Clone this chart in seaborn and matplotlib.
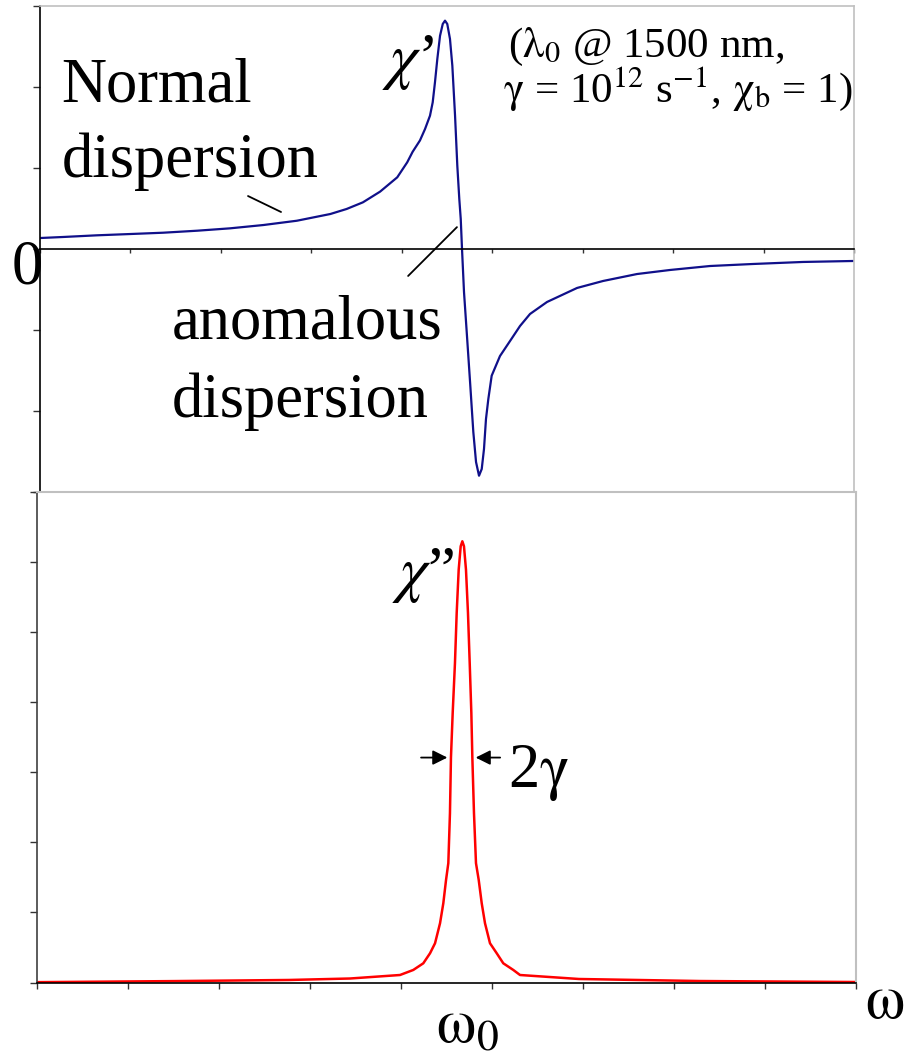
"""Dispersion (chi') and absorption (chi'') near a resonance, two stacked panels."""
import matplotlib
matplotlib.use("Agg")
import matplotlib.pyplot as plt
import pandas as pd
import seaborn as sns

# chi' (top panel); x and y in tick units
CHI1_X = [0.01, 0.25, 0.63, 1.0, 1.36, 1.74, 2.10, 2.47, 2.84, 3.21, 3.39, 3.57,
          3.76, 3.95, 4.06, 4.12, 4.201, 4.257, 4.312, 4.342, 4.367, 4.393, 4.423,
          4.453, 4.478, 4.503, 4.533, 4.559, 4.589, 4.614, 4.636, 4.652, 4.666,
          4.688, 4.718, 4.755, 4.791, 4.821, 4.854, 4.884, 4.909, 4.931, 4.957,
          4.994, 5.086, 5.219, 5.307, 5.418, 5.606, 5.938, 6.225, 6.601, 6.966,
          7.408, 7.884, 8.437, 8.99]
CHI1_Y = [0.136, 0.148, 0.169, 0.185, 0.201, 0.226, 0.255, 0.296, 0.349, 0.432,
          0.494, 0.576, 0.708, 0.885, 1.07, 1.20, 1.34, 1.481, 1.646, 1.811, 2.058,
          2.346, 2.633, 2.778, 2.819, 2.778, 2.593, 2.263, 1.646, 1.028, 0.617, 0.370,
          0.0, -0.531, -1.025, -1.642, -2.259, -2.630, -2.799, -2.716, -2.469, -2.099,
          -1.852, -1.564, -1.321, -1.099, -0.951, -0.802, -0.654, -0.481, -0.395,
          -0.309, -0.259, -0.210, -0.185, -0.160, -0.148]

# chi'' (bottom panel)
CHI2_X = [0.0, 1.505, 2.769, 3.44, 3.989, 4.135, 4.245, 4.319, 4.374, 4.429, 4.465,
          4.495, 4.520, 4.538, 4.549, 4.568, 4.593, 4.612, 4.634, 4.656, 4.674, 4.692,
          4.714, 4.736, 4.755, 4.773, 4.784, 4.802, 4.824, 4.854, 4.887, 4.923, 4.978,
          5.052, 5.124, 5.234, 5.308, 5.956, 7.286, 9.0]
CHI2_Y = [0.005, 0.02, 0.036, 0.057, 0.107, 0.179, 0.274, 0.417, 0.560, 0.846, 1.131,
          1.464, 1.703, 2.417, 3.211, 3.846, 4.560, 5.274, 5.893, 6.226, 6.297, 6.226,
          5.893, 5.274, 4.560, 3.846, 3.211, 2.417, 1.703, 1.464, 1.131, 0.846, 0.560,
          0.417, 0.274, 0.179, 0.107, 0.05, 0.021, 0.007]

X_TICKS = list(range(0, 10))
TOP_Y_TICKS = [-3, -2, -1, 0, 1, 2, 3]
BOT_Y_TICKS = list(range(0, 8))

NAVY = "#10108a"
RED = "#ff0000"
LIGHT = "#c0c0c0"

SERIF = ["Liberation Serif", "STIXGeneral", "DejaVu Serif"]

sns.set_theme(style="white")
plt.rcParams["font.family"] = SERIF
plt.rcParams["text.color"] = "black"
# greek letters go through mathtext so they come out Times-like (STIX)
plt.rcParams["mathtext.fontset"] = "stix"

FONT = dict(family=SERIF, color="black")

fig = plt.figure(figsize=(9.08, 10.56), dpi=100)
ax1 = fig.add_axes([40 / 908, 1 - 492 / 1056, 814 / 908, 486 / 1056])
ax2 = fig.add_axes([37 / 908, 1 - 982.5 / 1056, 819 / 908, 490.5 / 1056])

top_df = pd.DataFrame({"w": CHI1_X, "chi": CHI1_Y})
bot_df = pd.DataFrame({"w": CHI2_X, "chi": CHI2_Y})

sns.lineplot(data=top_df, x="w", y="chi", ax=ax1, color=NAVY, lw=1.6, estimator=None)
sns.lineplot(data=bot_df, x="w", y="chi", ax=ax2, color=RED, lw=1.8, estimator=None)

# --- top panel: zero line acts as x axis
ax1.set_xlim(0, 9)
ax1.set_ylim(-3, 3)
ax1.set_xticks(X_TICKS)
ax1.set_yticks(TOP_Y_TICKS)
ax1.set_xticklabels([])
ax1.set_yticklabels([])
ax1.set_xlabel("")
ax1.set_ylabel("")
ax1.spines["bottom"].set_position(("data", 0))
for s in ["top", "right"]:
    ax1.spines[s].set_color(LIGHT)
    ax1.spines[s].set_linewidth(1.2)
for s in ["left", "bottom"]:
    ax1.spines[s].set_color("black")
    ax1.spines[s].set_linewidth(1.2)
ax1.tick_params(axis="y", direction="out", length=5, width=1, color="#333333", left=True)
ax1.tick_params(axis="x", direction="out", length=3, width=1, color="#333333", bottom=True)
ax1.patch.set_alpha(0)

# --- bottom panel
ax2.set_xlim(0, 9)
ax2.set_ylim(0, 7)
ax2.set_xticks(X_TICKS)
ax2.set_yticks(BOT_Y_TICKS)
ax2.set_xticklabels([])
ax2.set_yticklabels([])
ax2.set_xlabel("")
ax2.set_ylabel("")
for s in ["top", "right"]:
    ax2.spines[s].set_color(LIGHT)
    ax2.spines[s].set_linewidth(1.5)
ax2.spines["left"].set_color("#404040")
ax2.spines["bottom"].set_color("black")
ax2.spines["left"].set_linewidth(1.2)
ax2.spines["bottom"].set_linewidth(1.2)
ax2.tick_params(axis="y", direction="out", length=5, width=1, color="#333333", left=True)
ax2.tick_params(axis="x", direction="out", length=4, width=1, color="#333333", bottom=True)

BIG = 45
MID = 31

# labels in the top panel
ax1.text(0.24, 1.815, "Normal", fontsize=BIG, ha="left", va="baseline", **FONT)
ax1.text(0.24, 0.89, "dispersion", fontsize=BIG, ha="left", va="baseline", **FONT)
ax1.text(1.46, -1.11, "anomalous", fontsize=BIG, ha="left", va="baseline", **FONT)
ax1.text(1.46, -2.07, "dispersion", fontsize=BIG, ha="left", va="baseline", **FONT)
ax1.text(3.78, 2.12, "$\\chi$’", fontsize=BIG, ha="left", va="baseline", **FONT)
ax1.text(5.17, 2.37, "($\\mathrm{\\lambda}_0$ @ 1500 nm,", fontsize=MID,
         ha="left", va="baseline", **FONT)
ax1.text(5.12, 1.815,
         "$\\mathrm{\\gamma}$ = 10$^{12}$ s$^{-1}$, $\\mathrm{\\chi}_\\mathrm{b}$ = 1)",
         fontsize=MID, ha="left", va="baseline", **FONT)
ax1.text(0.03, -0.43, "0", fontsize=BIG, ha="right", va="baseline", clip_on=False, **FONT)
ax1.plot([2.30, 2.665], [0.654, 0.457], color="black", lw=1.3)
ax1.plot([4.07, 4.61], [-0.333, 0.27], color="black", lw=1.3)

# labels in the bottom panel
ax2.text(3.90, 5.6, "$\\chi$”", fontsize=BIG, ha="left", va="baseline", **FONT)
ax2.text(5.18, 2.79, "2$\\mathrm{\\gamma}$", fontsize=BIG, ha="left", va="baseline", **FONT)
ax2.annotate("", xy=(4.54, 3.21), xytext=(4.19, 3.21),
             arrowprops=dict(arrowstyle="-|>", color="black", lw=1.3, mutation_scale=22))
ax2.annotate("", xy=(4.79, 3.21), xytext=(5.12, 3.21),
             arrowprops=dict(arrowstyle="-|>", color="black", lw=1.3, mutation_scale=22))
ax2.text(4.725, -0.85, "$\\mathrm{\\omega}_0$", fontsize=BIG, ha="center", va="baseline",
         clip_on=False, **FONT)
ax2.text(9.10, -0.51, "$\\mathrm{\\omega}$", fontsize=BIG, ha="left", va="baseline",
         clip_on=False, **FONT)

fig.savefig("out.png", dpi=100)
